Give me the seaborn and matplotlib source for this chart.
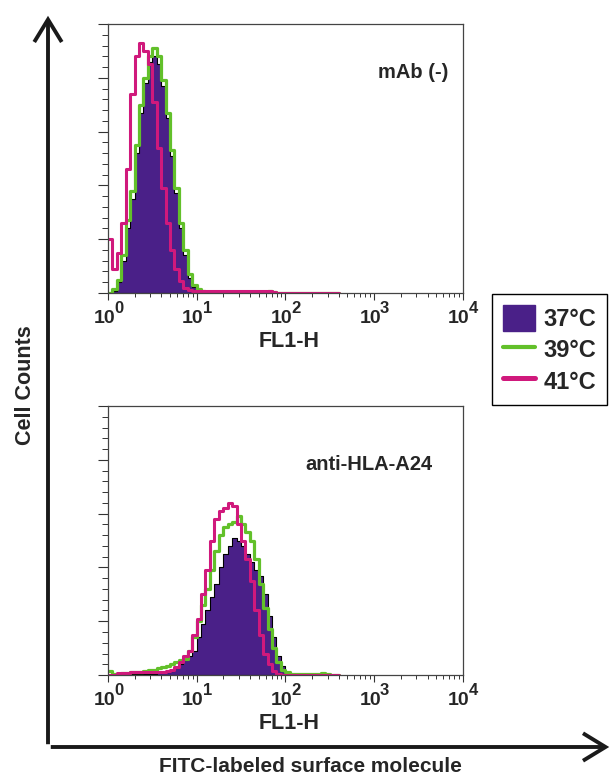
import numpy as np
import pandas as pd
import seaborn as sns
import matplotlib.pyplot as plt
from matplotlib.patches import Patch, FancyArrowPatch
from matplotlib.lines import Line2D
from matplotlib.ticker import FixedLocator, MultipleLocator, NullFormatter

# FL1-H channel bins, in log10 units (10^0 .. 10^2.6)
bin_edges = np.round(np.arange(0, 2.6001, 0.05), 3)
temps = ['37°C', '39°C', '41°C']

# mAb (-) panel, cell counts per bin
top_37 = [0, 0.8, 4, 12, 24, 35, 52, 67, 78, 86,
          88, 85, 77, 65, 51, 37, 24, 14, 5.5, 2.2,
          1, 0.5, 0.3, 0.3, 0.2, 0.2, 0.2, 0.2, 0.2, 0.2,
          0.2, 0.2, 0.2, 0.2, 0.2, 0.2, 0.1, 0, 0, 0,
          0, 0, 0, 0, 0, 0, 0, 0, 0, 0, 0, 0]
top_39 = [0, 1.5, 5, 14, 27, 38, 55, 70, 80, 88,
          91, 88, 79, 67, 53, 39, 26, 16, 7, 3,
          1.5, 0.8, 0.4, 0.3, 0.3, 0.3, 0.3, 0.3, 0.3, 0.3,
          0.3, 0.4, 0.4, 0.4, 0.5, 0.5, 0.6, 0.4, 0, 0,
          0, 0, 0, 0, 0, 0, 0, 0, 0, 0, 0, 0]
top_41 = [20, 9, 15, 26, 46, 74, 88, 93, 90, 85,
          71, 54, 39, 26, 16, 9, 4.5, 2, 1, 0.8,
          0.6, 0.6, 0.6, 0.6, 0.6, 0.6, 0.6, 0.6, 0.6, 0.6,
          0.6, 0.6, 0.6, 0.7, 0.8, 0.8, 0.6, 0.3, 0, 0,
          0, 0, 0, 0, 0, 0, 0, 0, 0, 0, 0, 0]

# anti-HLA-A24 panel
bot_37 = [0, 0, 0, 0, 0, 0.2, 0.2, 0.3, 0.3, 0.4,
          0.5, 0.6, 0.8, 1, 1.5, 2.5, 4, 5.5, 7, 9,
          14, 19, 24, 29, 34, 40, 45, 48, 51, 50,
          48, 45, 42, 39, 37, 30, 22, 14, 7, 3.5,
          1, 0.3, 0, 0, 0, 0, 0, 0, 0, 0, 0, 0]
bot_39 = [1.5, 0.5, 0.5, 0.8, 0.8, 1, 1, 1.2, 1.5, 1.8,
          2, 2.5, 3, 3.5, 4, 5, 5.5, 6, 9, 14,
          20, 26, 32, 39, 46, 52, 55, 56, 57, 59,
          56, 53, 50, 43, 34, 25, 17, 10, 5, 2,
          1, 0.5, 0.3, 0.3, 0.2, 0.2, 0.2, 0.2, 0.6, 0.3, 0, 0]
bot_41 = [0, 0, 0.8, 0.8, 0.9, 1, 1, 1, 1, 1.2,
          1.2, 1.2, 1.3, 1.5, 2, 3, 5, 7, 9, 15,
          21, 30, 39, 50, 58, 61, 62, 64, 63, 56,
          50, 43, 35, 24, 15, 8, 4, 1.5, 0.5, 0,
          0, 0, 0, 0, 0, 0, 0, 0, 0, 0, 0, 0]

decades = [0, 1, 2, 3, 4]

purple = '#4a2088'
green = '#62c02a'
magenta = '#d0197c'

sns.set_style('white')
plt.rcParams['font.family'] = ['Liberation Sans', 'DejaVu Sans']
plt.rcParams['font.weight'] = 'bold'

fig = plt.figure(figsize=(6.13, 7.75), dpi=100)
ax_top = fig.add_axes([0.176, 0.622, 0.579, 0.347])
ax_bot = fig.add_axes([0.176, 0.129, 0.579, 0.347])

centers = bin_edges[:-1] + 0.025
bins = list(bin_edges)
PT = 0.72  # points per pixel at dpi 100


def draw_panel(ax, c37, c39, c41, name, name_xy):
    df = pd.DataFrame({'fl1': centers, 'c37': c37, 'c39': c39, 'c41': c41})
    sns.histplot(data=df, x='fl1', weights='c37', bins=bins, element='step',
                 fill=True, color=purple, edgecolor='black', alpha=1,
                 linewidth=0.8, ax=ax)
    sns.histplot(data=df, x='fl1', weights='c39', bins=bins, element='step',
                 fill=False, color=green, linewidth=2.3, ax=ax)
    sns.histplot(data=df, x='fl1', weights='c41', bins=bins, element='step',
                 fill=False, color=magenta, linewidth=2.2, ax=ax)
    ax.set_xlim(0, 4)
    ax.set_ylim(0, 100)
    ax.xaxis.set_major_locator(FixedLocator(decades))
    ax.xaxis.set_major_formatter(NullFormatter())
    minors = [d + np.log10(k) for d in decades[:-1] for k in range(2, 10)]
    ax.xaxis.set_minor_locator(FixedLocator(minors))
    ax.yaxis.set_major_locator(MultipleLocator(20))
    ax.yaxis.set_minor_locator(MultipleLocator(4))
    ax.yaxis.set_major_formatter(NullFormatter())
    ax.tick_params(axis='x', which='major', direction='out', length=5,
                   width=0.8, color='#333333')
    ax.tick_params(axis='x', which='minor', direction='out', length=3,
                   width=0.7, color='#333333')
    ax.tick_params(axis='y', which='major', direction='out', length=7,
                   width=0.8, color='#333333')
    ax.tick_params(axis='y', which='minor', direction='out', length=4,
                   width=0.7, color='#333333')
    ax.tick_params(axis='x', which='both', bottom=True)
    ax.tick_params(axis='y', which='both', left=True)
    ax.set_ylabel('')
    ax.set_xlabel('')
    for d in decades:
        ax.annotate('10', xy=(d, 0), xycoords=('data', 'axes fraction'),
                    xytext=(7 * PT, -30 * PT), textcoords='offset points',
                    ha='right', va='baseline', fontsize=14, fontweight='bold')
        ax.annotate(str(d), xy=(d, 0), xycoords=('data', 'axes fraction'),
                    xytext=(6 * PT, -20 * PT), textcoords='offset points',
                    ha='left', va='baseline', fontsize=12, fontweight='bold')
    ax.annotate('FL1-H', xy=(0.51, 0), xycoords='axes fraction',
                xytext=(0, -54 * PT), textcoords='offset points',
                ha='center', va='baseline', fontsize=15.5, fontweight='bold')
    for s in ax.spines.values():
        s.set_color('#444444')
        s.set_linewidth(0.9)
    ax.text(name_xy[0], name_xy[1], name, transform=ax.transAxes,
            ha='right', va='center', fontsize=14.5, fontweight='bold')


draw_panel(ax_top, top_37, top_39, top_41, 'mAb (-)', (0.958, 0.818))
draw_panel(ax_bot, bot_37, bot_39, bot_41, 'anti-HLA-A24', (0.915, 0.784))

# big axis arrows
x0, y0 = 48 / 613, 1 - 747 / 775
arrow_kw = dict(transform=fig.transFigure, color='#1a1a1a', lw=2.8,
                arrowstyle='->,head_length=0.9,head_width=0.55',
                mutation_scale=18, capstyle='butt', joinstyle='miter')
fig.add_artist(FancyArrowPatch((x0, y0), (x0, 1 - 13 / 775), **arrow_kw))
fig.add_artist(FancyArrowPatch((x0, y0), (612 / 613, y0), **arrow_kw))
fig.text(0.041, 0.503, 'Cell Counts', rotation=90, ha='center', va='center',
         fontsize=15.5, fontweight='bold')
fig.text(0.506, 1 - 772 / 775, 'FITC-labeled surface molecule', ha='center',
         va='baseline', fontsize=15, fontweight='bold')

handles = [Patch(facecolor=purple, edgecolor=purple),
           Line2D([0], [0], color=green, lw=3),
           Line2D([0], [0], color=magenta, lw=3.6)]
fig.legend(handles, temps, loc='upper left',
           bbox_to_anchor=(492 / 613, 1 - 294 / 775), frameon=True,
           fancybox=False, edgecolor='black', framealpha=1, borderpad=0.45,
           prop={'size': 17, 'weight': 'bold'}, handlelength=1.36,
           handleheight=1.36, labelspacing=0.2, handletextpad=0.38,
           borderaxespad=0)

fig.savefig('out.png', dpi=100)
